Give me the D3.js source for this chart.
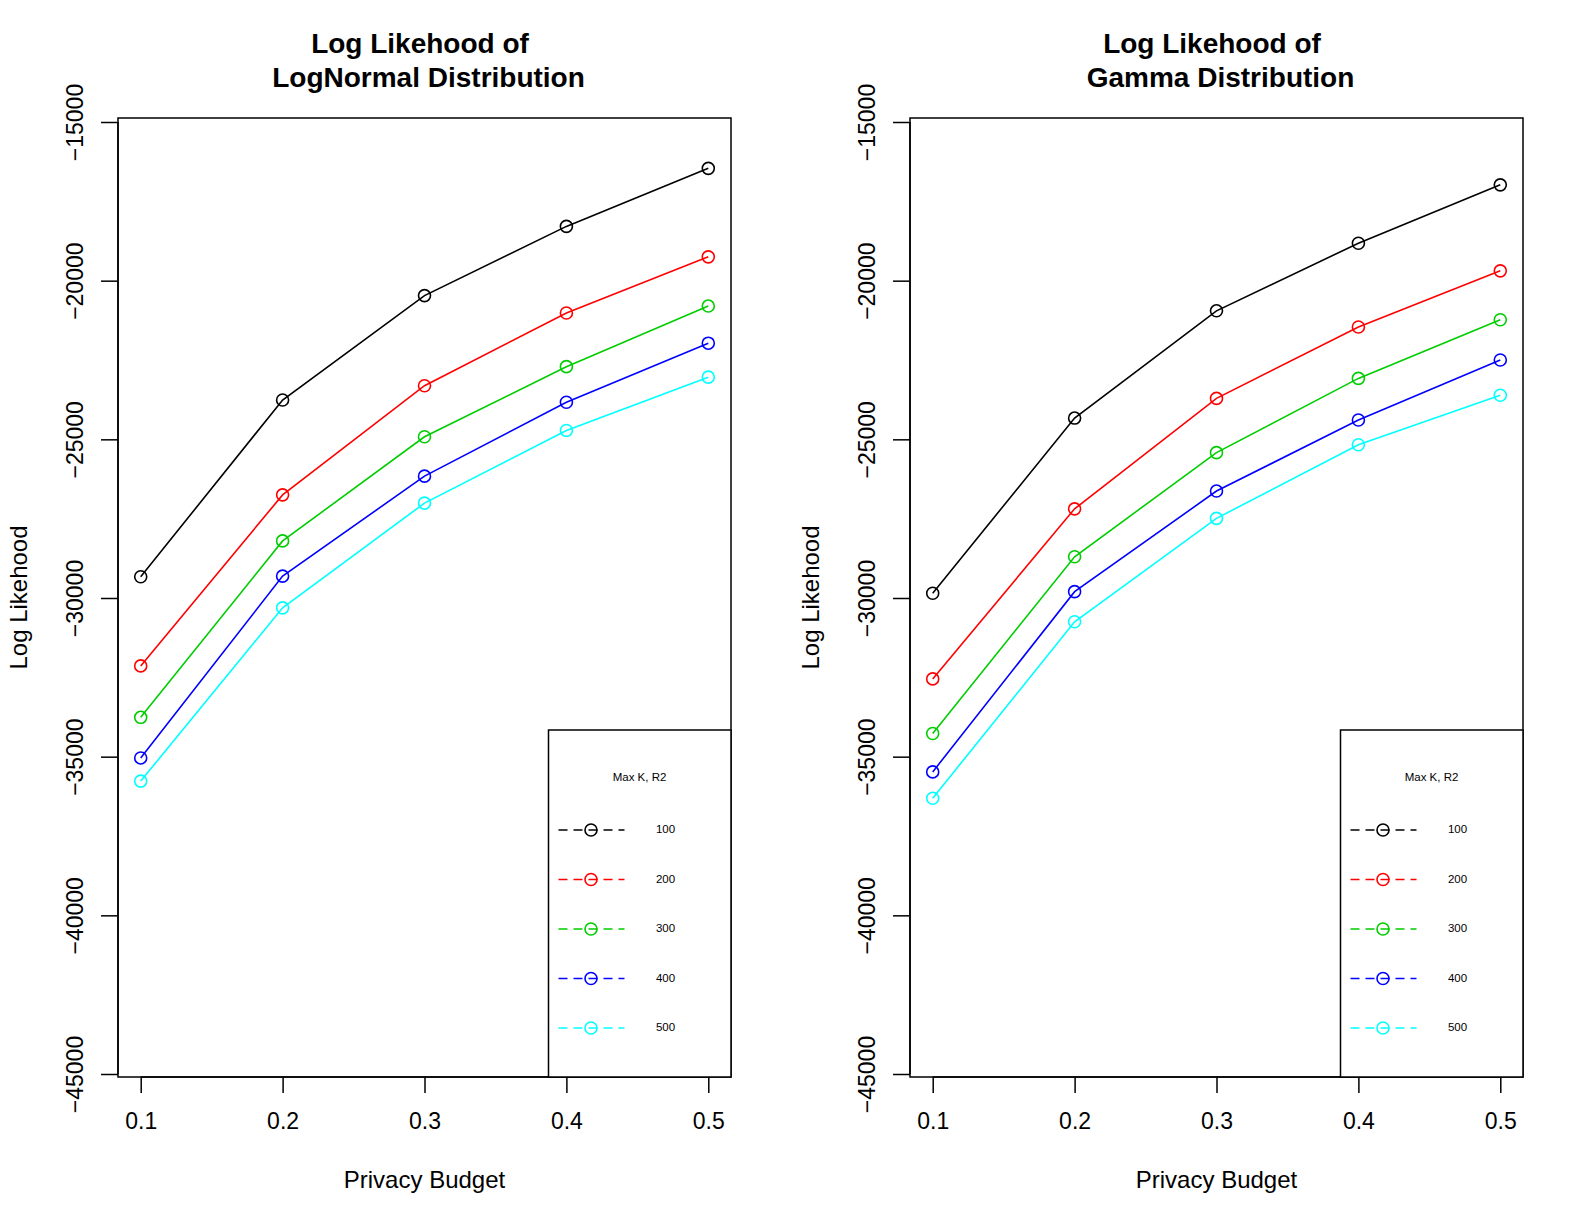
<!DOCTYPE html>
<html><head><meta charset="utf-8">
<script src="https://cdn.jsdelivr.net/npm/d3@7"></script>
<style>body{margin:0;background:#fff}svg{display:block;font-family:"Liberation Sans",Arial,sans-serif}</style>
</head><body><svg id="c" width="1584" height="1224"></svg>
<script>
const budgets = [0.1, 0.2, 0.3, 0.4, 0.5];
const xTicks = [0.1, 0.2, 0.3, 0.4, 0.5];
const yTicks = [-45000, -40000, -35000, -30000, -25000, -20000, -15000];
const seriesNames = ["100", "200", "300", "400", "500"];
const seriesColors = ["#000000", "#FF0000", "#00CD00", "#0000FF", "#00FFFF"];
const lognormal100 = [-29330, -23760, -20470, -18290, -16460];
const lognormal200 = [-32140, -26750, -23310, -21020, -19250];
const lognormal300 = [-33760, -28200, -24920, -22710, -20800];
const lognormal400 = [-35040, -29310, -26160, -23830, -21970];
const lognormal500 = [-35770, -30310, -27010, -24720, -23040];
const gamma100 = [-29850, -24330, -20950, -18820, -16980];
const gamma200 = [-32550, -27190, -23710, -21460, -19690];
const gamma300 = [-34270, -28700, -25420, -23080, -21230];
const gamma400 = [-35480, -29800, -26630, -24390, -22500];
const gamma500 = [-36310, -30750, -27490, -25170, -23610];
const panels = [
  {title: ["Log Likehood of", "LogNormal Distribution"], series: [lognormal100, lognormal200, lognormal300, lognormal400, lognormal500], left: 118, right: 731},
  {title: ["Log Likehood of", "Gamma Distribution"], series: [gamma100, gamma200, gamma300, gamma400, gamma500], left: 910, right: 1523}
];
const svg = d3.select("#c");
const boxTop = 118, boxBottom = 1077;
panels.forEach(p => {
  const g = svg.append("g");
  const w = p.right - p.left;
  const x = d3.scaleLinear().domain([0.084, 0.516]).range([p.left, p.right]);
  const y = d3.scaleLinear().domain([-45000, -15000]).range([1074, 122]);
  g.append("rect").attr("x", p.left).attr("y", boxTop).attr("width", w).attr("height", boxBottom - boxTop)
    .attr("fill", "none").attr("stroke", "#000").attr("stroke-width", 1.5);
  const xa = g.append("g").attr("transform", `translate(0,${boxBottom})`)
    .call(d3.axisBottom(x).tickValues(xTicks).tickSize(16).tickPadding(20).tickFormat(d3.format(".1f")));
  xa.select(".domain").attr("d", `M${x(0.1)},0H${x(0.5)}`).attr("stroke-width", 1.5);
  xa.selectAll(".tick line").attr("stroke-width", 1.5);
  xa.selectAll("text").attr("font-size", 23).attr("font-family", "Liberation Sans, Arial, sans-serif").attr("fill", "#000");
  const ya = g.append("g").attr("transform", `translate(${p.left},0)`)
    .call(d3.axisLeft(y).tickValues(yTicks).tickSize(17).tickFormat(d => d3.format("d")(d).replace("-", "\u2212")));
  ya.select(".domain").attr("d", `M0,${y(-45000)}V${y(-15000)}`).attr("stroke-width", 1.5);
  ya.selectAll(".tick line").attr("stroke-width", 1.5);
  ya.selectAll(".tick text").attr("font-size", 23).attr("font-family", "Liberation Sans, Arial, sans-serif").attr("fill", "#000")
    .attr("x", null).attr("dy", null).attr("text-anchor", "middle")
    .attr("transform", "translate(-41,0) rotate(-90)").attr("dominant-baseline", "middle");
  const cx = (p.left + p.right) / 2;
  g.append("text").attr("x", cx - 4.5).attr("y", 53).attr("text-anchor", "middle").attr("font-size", 28).attr("font-weight", "bold").text(p.title[0]);
  g.append("text").attr("x", cx + 4).attr("y", 87).attr("text-anchor", "middle").attr("font-size", 28).attr("font-weight", "bold").text(p.title[1]);
  g.append("text").attr("x", cx).attr("y", 1188).attr("text-anchor", "middle").attr("font-size", 24).text("Privacy Budget");
  g.append("text").attr("transform", `translate(${p.left - 97},${(boxTop + boxBottom) / 2}) rotate(-90)`)
    .attr("text-anchor", "middle").attr("dominant-baseline", "middle").attr("font-size", 24).text("Log Likehood");
  const line = d3.line().x((d, i) => x(budgets[i])).y(d => y(d));
  p.series.forEach((s, k) => {
    g.append("path").attr("d", line(s)).attr("fill", "none").attr("stroke", seriesColors[k]).attr("stroke-width", 1.6);
    g.selectAll(null).data(s).enter().append("circle")
      .attr("cx", (d, i) => x(budgets[i])).attr("cy", d => y(d)).attr("r", 6)
      .attr("fill", "none").attr("stroke", seriesColors[k]).attr("stroke-width", 1.6);
  });
  const lx = p.left + (548.5 - 118), ly = 730;
  const lg = g.append("g");
  lg.append("rect").attr("x", lx).attr("y", ly).attr("width", p.right - lx).attr("height", boxBottom - ly)
    .attr("fill", "#fff").attr("stroke", "#000").attr("stroke-width", 1.5);
  lg.append("text").attr("x", lx + 91).attr("y", ly + 48).attr("text-anchor", "middle").attr("dominant-baseline", "middle")
    .attr("font-size", 11.5).text("Max K, R2");
  seriesNames.forEach((nm, k) => {
    const yy = ly + 100 + k * 49.5;
    lg.append("line").attr("x1", lx + 10).attr("x2", lx + 76).attr("y1", yy).attr("y2", yy)
      .attr("stroke", seriesColors[k]).attr("stroke-width", 1.6).attr("stroke-dasharray", "9,6");
    lg.append("circle").attr("cx", lx + 42.5).attr("cy", yy).attr("r", 6)
      .attr("fill", "none").attr("stroke", seriesColors[k]).attr("stroke-width", 1.6);
    lg.append("text").attr("x", lx + 117).attr("y", yy).attr("text-anchor", "middle").attr("dominant-baseline", "middle")
      .attr("font-size", 11.5).text(nm);
  });
});
</script></body></html>
